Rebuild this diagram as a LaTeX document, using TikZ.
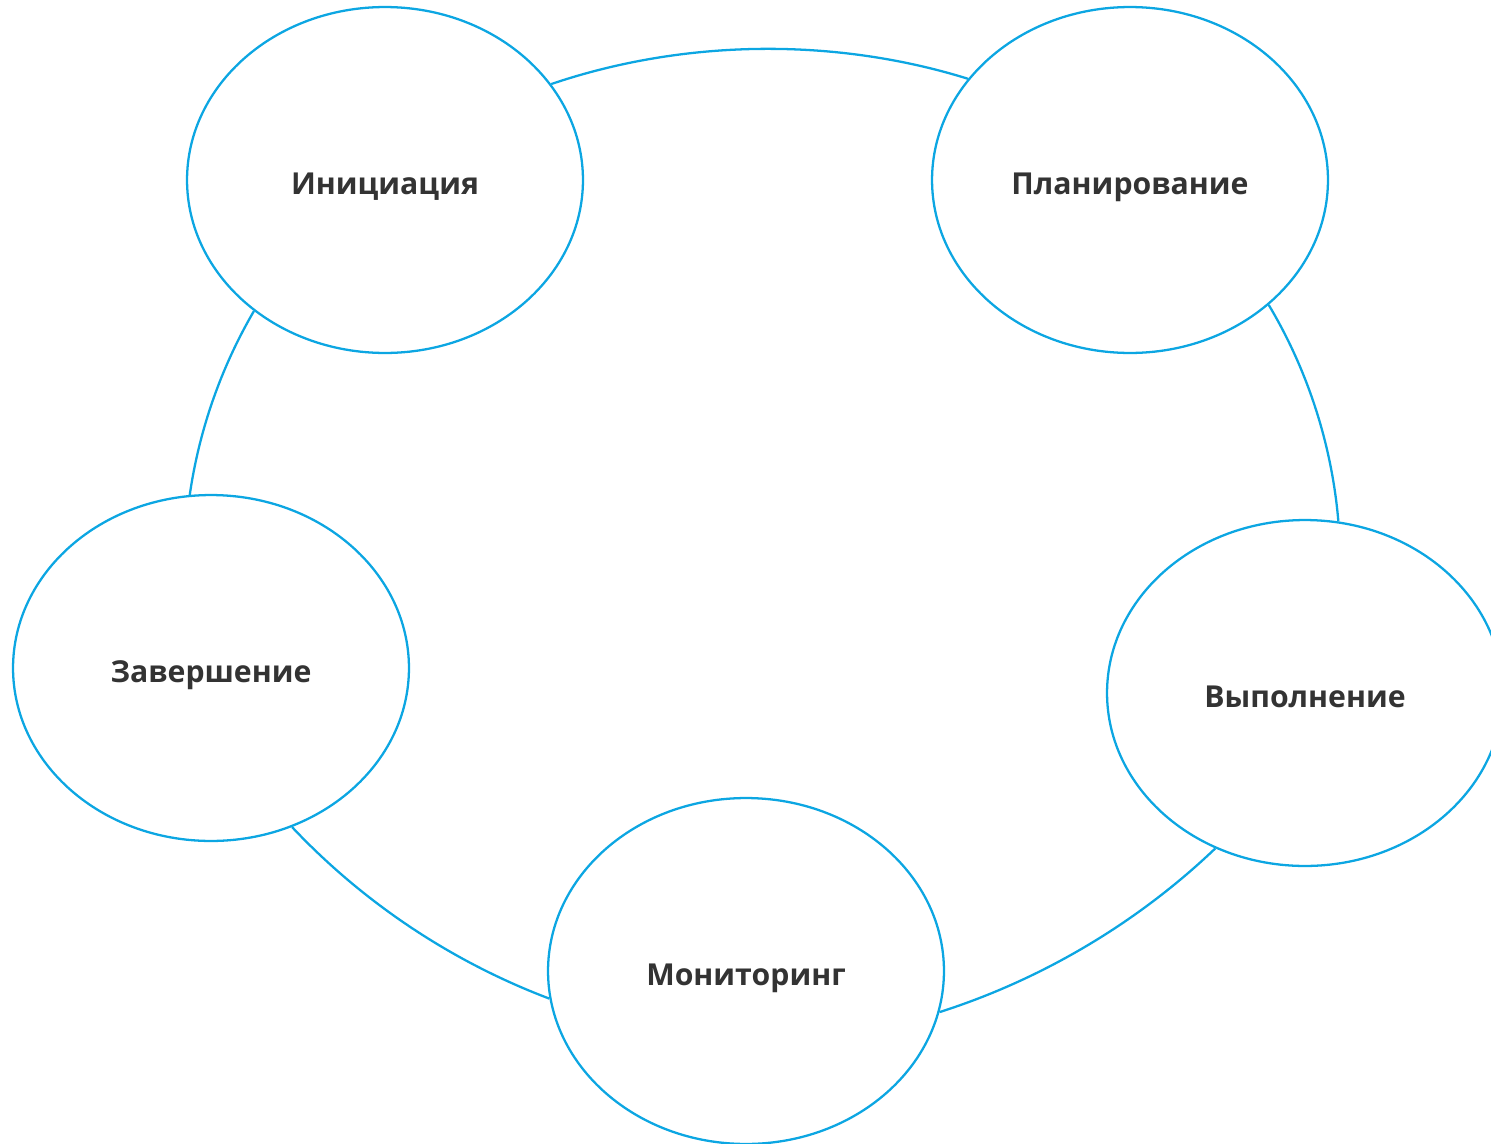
\documentclass[tikz,border=0pt]{standalone}
\usepackage{fontspec}
\setmainfont{Open Sans}
\usepackage{tikz}
\usetikzlibrary{shapes,positioning}
\definecolor{cycleblue}{RGB}{12,166,226}
\definecolor{labelgray}{RGB}{51,51,51}

\begin{document}
\begin{tikzpicture}[x=0.02cm, y=-0.02cm,
    phase/.style={ellipse, draw=cycleblue, line width=1.3pt,
        minimum width=7.92cm, minimum height=6.92cm, inner sep=0pt,
        text height=16pt, text depth=0pt,
        font=\bfseries\fontsize{17.2}{21}\selectfont, text=labelgray},
    link/.style={draw=cycleblue, line width=1.3pt, looseness=0.86}]
    \useasboundingbox (0,0) rectangle (1491,1143);

    % Phases
    \node[phase] (ini)  at (385,180)  {Инициация};
    \node[phase] (plan) at (1130,180) {Планирование};
    \node[phase] (vyp)  at (1305,693) {Выполнение};
    \node[phase] (mon)  at (746,971)  {Мониторинг};
    \node[phase] (zav)  at (211,668)  {Завершение};

    % Links round the cycle
    \draw[link] (ini.30)   to[bend left=18] (plan.148);
    \draw[link] (plan.-42) to[bend left=13] (vyp.79);
    \draw[link] (vyp.240)  to[bend left=13] (mon.-12);
    \draw[link] (mon.188)  to[bend left=13] (zav.297);
    \draw[link] (zav.97)   to[bend left=11] (ini.225);
\end{tikzpicture}
\end{document}
